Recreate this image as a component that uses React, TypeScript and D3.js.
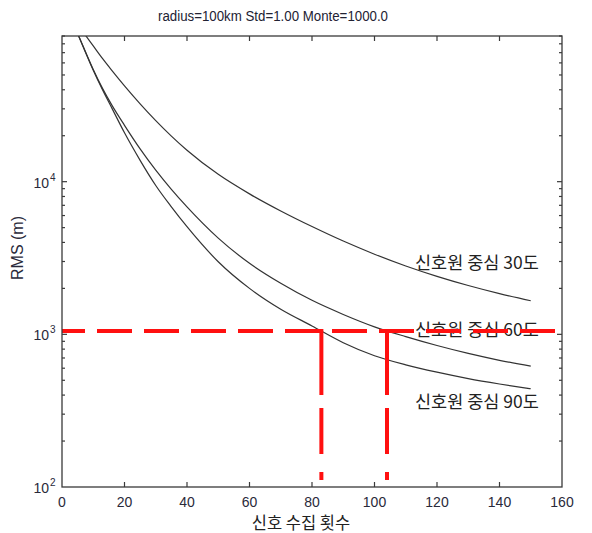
import React from "react";
import * as d3 from "d3";

const nValues = [5, 7, 10, 13, 16, 20, 25, 30, 35, 40, 50, 60, 70, 80, 90, 100, 110, 120, 130, 140, 150];
const rms30 = [107500, 94100, 77540, 63920, 53400, 42420, 32360, 25120, 19890, 16070, 11170, 8318, 6427, 5082, 4083, 3350, 2805, 2399, 2089, 1849, 1660];
const rms60 = [93300, 75000, 54300, 40700, 31600, 23400, 16400, 11900, 8910, 6840, 4270, 2920, 2160, 1670, 1350, 1120, 966, 845, 750, 676, 619];
const rms90 = [93300, 74600, 53700, 39800, 30200, 20900, 13800, 9440, 6840, 5070, 2990, 2000, 1460, 1135, 881, 724, 631, 565, 513, 473, 440];
const seriesLabels = ["신호원 중심 30도", "신호원 중심 60도", "신호원 중심 90도"];
const labelAnchors = [2930, 1067, 360];
const xTicks = [0, 20, 40, 60, 80, 100, 120, 140, 160];
const yMajor = [100, 1000, 10000];
const yExponents = ["2", "3", "4"];
const thresholdRms = 1050;
const thresholdN = [83, 104];
const titleText = "radius=100km Std=1.00 Monte=1000.0";
const xLabel = "신호 수집 횟수";
const yLabel = "RMS (m)";

const W = 592, H = 533;
const L = 62, R = 562, T = 36, B = 487;

export default function App() {
  const x = d3.scaleLinear().domain([0, 160]).range([L, R]);
  const y = d3.scaleLog().domain([100, 90000]).range([B, T]);
  const line = d3
    .line<number>()
    .x((_, i) => x(nValues[i]))
    .y((d) => y(d))
    .curve(d3.curveMonotoneX);

  const minor: number[] = [];
  for (const dec of [100, 1000, 10000]) {
    for (let k = 2; k <= 9; k++) {
      const v = dec * k;
      if (v <= 90000) minor.push(v);
    }
  }
  const axisColor = "#3a3a3a";
  const textColor = "#2a2a3a";
  const sans = "'Liberation Sans', Arial, sans-serif";
  const kr = "'Noto Sans CJK KR', sans-serif";

  return (
    <svg width={W} height={H} style={{ position: "absolute", left: 0, top: 0, background: "#fff" }}>
      <defs>
        <clipPath id="plotclip">
          <rect x={L} y={T} width={R - L} height={B - T} />
        </clipPath>
      </defs>
      <rect x={0} y={0} width={W} height={H} fill="#fff" />
      <text
        x={273}
        y={21}
        textAnchor="middle"
        fontFamily={sans}
        fontSize={14}
        fill="#222233"
        textLength={230}
        lengthAdjust="spacingAndGlyphs"
      >
        {titleText}
      </text>

      {/* curves */}
      <g clipPath="url(#plotclip)" fill="none" stroke="#333" strokeWidth={1.2}>
        <path d={line(rms30) || ""} />
        <path d={line(rms60) || ""} />
        <path d={line(rms90) || ""} />
      </g>

      {/* series labels */}
      {seriesLabels.map((s, i) => (
        <text key={s} x={415} y={y(labelAnchors[i]) + 6} fontFamily={kr} fontSize={17.5} fill="#222">
          {s}
        </text>
      ))}

      {/* red threshold lines */}
      <g clipPath="url(#plotclip)">
        <line
          x1={L}
          x2={R}
          y1={y(thresholdRms)}
          y2={y(thresholdRms)}
          stroke="#ff1010"
          strokeWidth={4}
          strokeDasharray="35 12"
          strokeDashoffset={12}
        />
        {thresholdN.map((n) => (
          <line
            key={n}
            x1={x(n)}
            x2={x(n)}
            y1={y(thresholdRms) - 2}
            y2={B}
            stroke="#ff1010"
            strokeWidth={4}
            strokeDasharray="66 13 46 18 8 20"
          />
        ))}
      </g>

      {/* axes box */}
      <rect x={L} y={T} width={R - L} height={B - T} fill="none" stroke={axisColor} strokeWidth={1.3} />

      {/* x ticks */}
      {xTicks.map((t) => (
        <g key={t}>
          {t > 0 && t < 160 && (
            <>
              <line x1={x(t)} x2={x(t)} y1={B} y2={B - 5} stroke={axisColor} strokeWidth={1.2} />
              <line x1={x(t)} x2={x(t)} y1={T} y2={T + 5} stroke={axisColor} strokeWidth={1.2} />
            </>
          )}
          <text x={x(t)} y={507} textAnchor="middle" fontFamily={sans} fontSize={14} fill={textColor}>
            {t}
          </text>
        </g>
      ))}

      {/* y ticks */}
      {yMajor.map((v, i) => (
        <g key={v}>
          {i > 0 && (
            <>
              <line x1={L} x2={L + 5} y1={y(v)} y2={y(v)} stroke={axisColor} strokeWidth={1.2} />
              <line x1={R} x2={R - 5} y1={y(v)} y2={y(v)} stroke={axisColor} strokeWidth={1.2} />
            </>
          )}
          <text x={49} y={y(v) + 6} textAnchor="end" fontFamily={sans} fontSize={14} fill={textColor}>
            10
          </text>
          <text x={50} y={y(v) - 1} textAnchor="start" fontFamily={sans} fontSize={10} fill={textColor}>
            {yExponents[i]}
          </text>
        </g>
      ))}
      {minor.map((v) => (
        <g key={"m" + v}>
          <line x1={L} x2={L + 3} y1={y(v)} y2={y(v)} stroke={axisColor} strokeWidth={1.2} />
          <line x1={R} x2={R - 3} y1={y(v)} y2={y(v)} stroke={axisColor} strokeWidth={1.2} />
        </g>
      ))}

      {/* axis labels */}
      <text x={301} y={529} textAnchor="middle" fontFamily={kr} fontSize={16.5} fill="#222">
        {xLabel}
      </text>
      <text
        transform={`translate(23,248) rotate(-90)`}
        textAnchor="middle"
        fontFamily={sans}
        fontSize={16}
        fill={textColor}
      >
        {yLabel}
      </text>
    </svg>
  );
}
